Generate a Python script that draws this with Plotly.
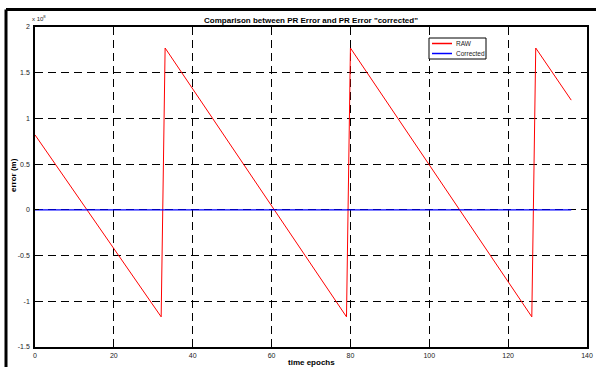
import plotly.graph_objects as go

# Data (vertices, units x1e8)
raw_x = [0, 32, 33, 79, 80, 126, 127, 136]
raw_y = [0.82, -1.17, 1.77, -1.17, 1.77, -1.17, 1.77, 1.2]
cor_x = [0, 136]
cor_y = [0, 0]
x_ticks = [0, 20, 40, 60, 80, 100, 120, 140]
y_ticks = [-1.5, -1, -0.5, 0, 0.5, 1, 1.5, 2]
y_tick_text = ["-1.5", "-1", "-0.5", "0", "0.5", "1", "1.5", "2"]
series_names = ["RAW", "Corrected"]
series_colors = ["#ff0000", "#0000ff"]

W, H = 596, 367
L, R, T, B = 35, 9, 27, 20
pw, ph = W - L - R, H - T - B


def px(x):
    return (x - L) / pw


def py(y):
    return 1 - (y - T) / ph


FONT = "Arial, Liberation Sans"

fig = go.Figure()
fig.add_trace(go.Scatter(x=raw_x, y=raw_y, mode="lines", name=series_names[0],
                         line=dict(color=series_colors[0], width=1)))
fig.add_trace(go.Scatter(x=cor_x, y=cor_y, mode="lines", name=series_names[1],
                         line=dict(color=series_colors[1], width=1.2)))

axis_common = dict(showline=True, linecolor="black", linewidth=1.5, mirror="ticks",
                   ticks="inside", ticklen=4, tickcolor="black", automargin=False,
                   showgrid=True, gridcolor="black", gridwidth=1, griddash="8px,5px",
                   zeroline=False, tickfont=dict(family=FONT, size=7, color="#222"))

fig.update_layout(
    width=W, height=H,
    margin=dict(l=L, r=R, t=T, b=B, pad=0),
    paper_bgcolor="white", plot_bgcolor="white",
    title=dict(text="<b>Comparison between PR Error and PR Error \"corrected\"</b>",
               x=(L + pw / 2) / W, xanchor="center", y=1 - 20 / H, yanchor="middle",
               font=dict(family=FONT, size=8, color="black")),
    xaxis=dict(range=[0, 140], tickvals=x_ticks, ticklabelstandoff=1, **axis_common),
    yaxis=dict(range=[-1.5, 2], tickvals=y_ticks, ticktext=y_tick_text, ticklabelstandoff=2, **axis_common),
    showlegend=False,
)

fig.add_annotation(text="<b>time epochs</b>", xref="paper", yref="paper",
                   x=0.5, y=py(362), xanchor="center", yanchor="middle", showarrow=False,
                   font=dict(family=FONT, size=8, color="black"))
fig.add_annotation(text="<b>error (m)</b>", xref="paper", yref="paper",
                   x=px(13), y=py(175), textangle=-90,
                   xanchor="center", yanchor="middle", showarrow=False,
                   font=dict(family=FONT, size=8, color="black"))
fig.add_annotation(text="x 10<sup>8</sup>", xref="paper", yref="paper",
                   x=px(30), y=py(18), xanchor="left", yanchor="middle",
                   showarrow=False, font=dict(family=FONT, size=6, color="#222"))

# Legend box drawn in the MATLAB style
fig.add_shape(type="rect", xref="paper", yref="paper", x0=px(429), x1=px(486), y0=py(59), y1=py(38),
              line=dict(color="black", width=1), fillcolor="white", layer="above")
for i, (name, col) in enumerate(zip(series_names, series_colors)):
    yy = 43.5 + i * 10
    fig.add_shape(type="line", xref="paper", yref="paper", x0=px(432), x1=px(452), y0=py(yy), y1=py(yy),
                  line=dict(color=col, width=1.5), layer="above")
    fig.add_annotation(text=name, xref="paper", yref="paper", x=px(454), y=py(yy),
                       xanchor="left", yanchor="middle", showarrow=False,
                       font=dict(family=FONT, size=6.5, color="#222"))

# Outer figure frame (partially visible)
fx = px(6)
fy = py(9.5)
fig.add_shape(type="line", xref="paper", yref="paper", x0=fx, x1=fx, y0=-0.2, y1=fy,
              line=dict(color="black", width=3))
fig.add_shape(type="line", xref="paper", yref="paper", x0=fx, x1=1.05, y0=fy, y1=fy,
              line=dict(color="black", width=3))

fig.write_html("out.html")
